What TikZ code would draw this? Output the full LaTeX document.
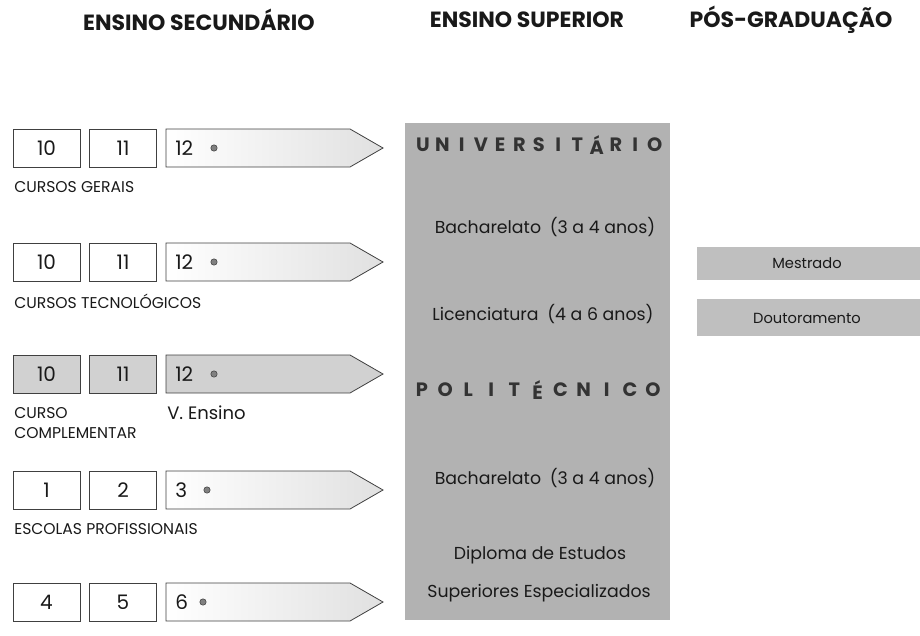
\documentclass[tikz,border=0pt]{standalone}
\usepackage{fontspec}
\setmainfont{Poppins}
\begin{document}
\begin{tikzpicture}[x=0.75pt,y=-0.75pt,
  hdr/.style={font=\bfseries\fontsize{16.5}{18}\selectfont, text=black!90, inner sep=0pt},
  lbl/.style={font=\fontsize{11.7}{15}\selectfont, anchor=west, inner sep=0pt, align=left, text=black!90},
  yr/.style={draw=black!75, line width=0.6pt, minimum width=50.25pt, minimum height=28.5pt, inner sep=0pt,
             font=\fontsize{15}{17}\selectfont, text=black!90},
  yrg/.style={yr, fill=black!18},
  arr/.style={draw=black!75, line width=0.6pt, left color=white, right color=black!12},
  arrg/.style={draw=black!75, line width=0.6pt, fill=black!18},
  num/.style={font=\fontsize{15}{17}\selectfont, anchor=west, inner sep=0pt, text=black!90},
  dotm/.style={draw=black!75, fill=black!50, line width=0.4pt},
  col/.style={font=\fontsize{13}{15}\selectfont, inner sep=0pt, text=black!90},
  pg/.style={font=\fontsize{11}{13}\selectfont, inner sep=0pt, text=black!90},
  ttl/.style={font=\bfseries\fontsize{14.5}{16}\selectfont, inner sep=0pt, text=black!80},
  band/.style={fill=black!25}]
\useasboundingbox (0,0) rectangle (920,635);
% headers
\node[hdr] (h1) at (199,20) {ENSINO SECUNDÁRIO};
\node[hdr] (h2) at (527,20) {ENSINO SUPERIOR};
\node[hdr] (h3) at (791,20) {PÓS-GRADUAÇÃO};
% gray column
\fill[black!30] (405,123) rectangle (670,620);
\foreach \c [count=\i] in {U,N,I,V,E,R,S,I,T,Á,R,I,O}
  \node[ttl] (u\i) at ({423+(\i-1)*19.3},145) {\c};
\node[col] (c1) at (545,227) {Bacharelato\hspace{0.5em}(3 a 4 anos)};
\node[col] (c2) at (543,314) {Licenciatura\hspace{0.5em}(4 a 6 anos)};
\foreach \c [count=\i] in {P,O,L,I,T,É,C,N,I,C,O}
  \node[ttl] (p\i) at ({422+(\i-1)*23.1},390) {\c};
\node[col] (c3) at (545,478) {Bacharelato\hspace{0.5em}(3 a 4 anos)};
\node[col] (c4) at (540,555) {Diploma de Estudos};
\node[col] (c5) at (539,593) {Superiores Especializados};
% post-graduation bands
\fill[band] (697,247) rectangle (920,280);
\fill[band] (697,299) rectangle (920,336);
\node[pg] (m1) at (807,263) {Mestrado};
\node[pg] (m2) at (807,318) {Doutoramento};
% rows
\foreach \r/\y/\a/\b/\c/\t/\dx in {1/148/10/11/12/CURSOS GERAIS/214, 2/262/10/11/12/CURSOS TECNOLÓGICOS/214, 4/490/1/2/3/ESCOLAS PROFISSIONAIS/207, 5/602/4/5/6//203}{
  \node[yr] (r\r a) at (46.5,\y) {\a};
  \node[yr] (r\r b) at (123,\y) {\b};
  \draw[arr] (166,\y-19) -- (350,\y-19) -- (383,\y) -- (350,\y+19) -- (166,\y+19) -- cycle;
  \node[num] (r\r c) at (175,\y) {\c};
  \fill[dotm] (\dx,\y) circle (2.4pt);
  \node[lbl] (l\r) at (14,\y+39) {\t};
}
% row 3 (shaded)
\node[yrg] (r3a) at (46.5,374) {10};
\node[yrg] (r3b) at (123,374) {11};
\draw[arrg] (166,355) -- (350,355) -- (383,374) -- (350,393) -- (166,393) -- cycle;
\node[num] (r3c) at (175,374) {12};
\fill[dotm] (214,374) circle (2.4pt);
\node[lbl] (l3) at (14,423) {CURSO\\COMPLEMENTAR};
\node[lbl, font=\fontsize{13.5}{15}\selectfont] (ve) at (167,413) {V. Ensino};
\end{tikzpicture}
\end{document}
